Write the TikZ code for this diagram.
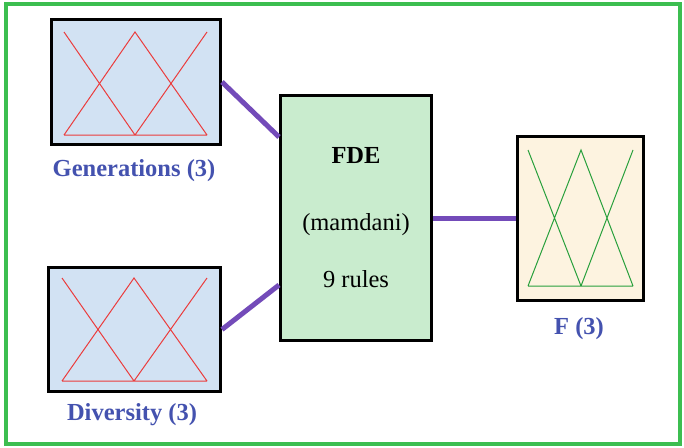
\documentclass[tikz,border=0pt]{standalone}
\usepackage{fontspec}
\setmainfont{Liberation Serif}
\definecolor{framegreen}{RGB}{60, 190, 80}
\definecolor{linkpurple}{RGB}{115, 75, 185}
\definecolor{labelblue}{RGB}{68, 82, 175}
\definecolor{inblue}{RGB}{210, 226, 243}
\definecolor{rulegreen}{RGB}{201, 236, 206}
\definecolor{outcream}{RGB}{253, 243, 224}
\definecolor{mfred}{RGB}{235, 60, 60}
\definecolor{mfgreen}{RGB}{40, 160, 60}
\usetikzlibrary{positioning, calc}

\begin{document}
\begin{tikzpicture}[x=1pt, y=-1pt,
  varbox/.style={draw=black, line width=3pt, inner sep=0pt},
  varlabel/.style={text=labelblue, font=\bfseries\fontsize{24.5}{27}\selectfont},
  link/.style={draw=linkpurple, line width=5pt},
  mfline/.style={line width=1pt}]
  \useasboundingbox (0,0) rectangle (684,447);
  \draw[framegreen, line width=4pt] (6,4) rectangle (680,444);

  % input and output variables
  \node[varbox, fill=inblue, minimum width=169pt, minimum height=125pt] (gen) at (136,82) {};
  \node[varbox, fill=inblue, minimum width=172pt, minimum height=124pt] (div) at (134.5,329.5) {};
  \node[varbox, fill=outcream, minimum width=126pt, minimum height=164pt] (out) at (580.5,218) {};
  \node[varlabel] (genlabel) at (134,171) {Generations (3)};
  \node[varlabel] (divlabel) at (132,415) {Diversity (3)};
  \node[varlabel] (outlabel) at (579,329) {F (3)};

  % rule block
  \node[varbox, fill=rulegreen, minimum width=151pt, minimum height=245pt,
        align=center, font=\fontsize{24.5}{27}\selectfont] (fde) at (356,218)
    {\textbf{FDE}\\[40pt](mamdani)\\[30pt]9 rules};

  % membership functions
  \draw[mfred, mfline] (64,32) -- (135,135) (64,135) -- (135,32) -- (207,135)
    (135,135) -- (207,32) (64,135) -- (207,135);
  \draw[mfred, mfline] (62,278) -- (134,381) (62,381) -- (134,278) -- (207,381)
    (134,381) -- (207,278) (62,381) -- (207,381);
  \draw[mfgreen, mfline] (528,150) -- (581,286) (528,286) -- (581,150) -- (633,286)
    (581,286) -- (633,150) (528,286) -- (633,286);

  % connectors
  \draw[link] (gen.east) -- ([yshift=81pt]fde.west);
  \draw[link] (div.east) -- ([yshift=-67pt]fde.west);
  \draw[link] (fde.east) -- (out.west);
\end{tikzpicture}
\end{document}
